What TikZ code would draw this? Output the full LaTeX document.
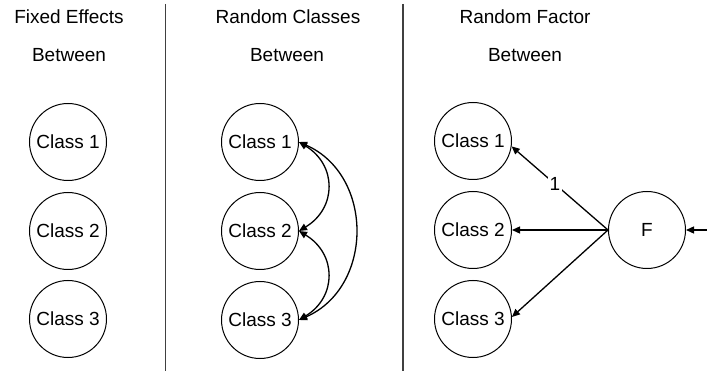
\documentclass[tikz,border=0pt]{standalone}
\usepackage{fontspec}
\setmainfont{Liberation Sans}
\usetikzlibrary{arrows.meta}
\begin{document}
\begin{tikzpicture}[x=1pt,y=-1pt,
  txt/.style={font=\fontsize{19}{22}\selectfont, inner sep=0pt},
  cls/.style={circle, draw, line width=1pt, minimum size=77pt, inner sep=0pt, font=\fontsize{19}{22}\selectfont},
  divider/.style={line width=1.1pt, draw=black!75},
  link/.style={line width=1.3pt, -{Triangle[length=8pt,width=7pt]}},
  dlink/.style={line width=1.3pt, {Triangle[length=8pt,width=7pt]}-{Triangle[length=8pt,width=7pt]}}]
\useasboundingbox (0,0) rectangle (707,371);

% column dividers
\coordinate (d1t) at (165.5,4);
\coordinate (d1b) at (165.5,371);
\coordinate (d2t) at (403,4);
\coordinate (d2b) at (403,371);
\draw[divider] (d1t) -- (d1b);
\draw[divider] (d2t) -- (d2b);

% headings
\node[txt] (h1) at (69,17) {Fixed Effects};
\node[txt] (b1) at (69,55) {Between};
\node[txt] (h2) at (288,17) {Random Classes};
\node[txt] (b2) at (287,55) {Between};
\node[txt] (h3) at (525,17) {Random Factor};
\node[txt] (b3) at (525,55) {Between};

% fixed effects
\node[cls] (a1) at (68,142) {Class 1};
\node[cls] (a2) at (68,231) {Class 2};
\node[cls] (a3) at (68,319) {Class 3};

% random classes
\node[cls] (r1) at (260,142) {Class 1};
\node[cls] (r2) at (260,231) {Class 2};
\node[cls] (r3) at (260,320) {Class 3};
\draw[dlink] (r1.east) .. controls (337,165) and (337,208) .. (r2.east);
\draw[dlink] (r2.east) .. controls (337,254) and (337,297) .. (r3.east);
\draw[dlink] (r1.east) .. controls (374,175) and (374,287) .. (r3.east);

% random factor
\node[cls] (f1) at (473,141) {Class 1};
\node[cls] (f2) at (473,230) {Class 2};
\node[cls] (f3) at (473,319) {Class 3};
\node[cls] (F) at (647,230) {F};
\coordinate (fin) at (707,230);
\draw[link] (F.west) -- (f1.-8) node[pos=0.55, fill=white, txt, inner sep=1.5pt] (one) {1};
\draw[link] (F.west) -- (f2.east);
\draw[link] (F.west) -- (f3.3);
\draw[link] (fin) -- (F.east);
\end{tikzpicture}
\end{document}
